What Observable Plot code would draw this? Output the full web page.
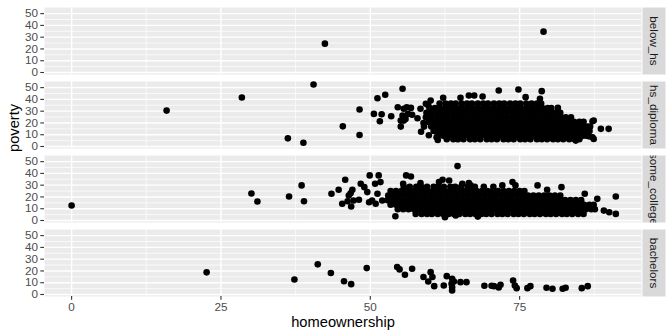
<!DOCTYPE html>
<html><head><meta charset="utf-8">
<script src="https://cdn.jsdelivr.net/npm/d3@7"></script>
<script src="https://cdn.jsdelivr.net/npm/@observablehq/plot@0.6"></script>
<style>body{margin:0;background:#fff;}</style>
</head><body><div id="chart"></div>
<script>
const levels = ["below_hs","hs_diploma","some_college","bachelors"];
const xTicks = [0,25,50,75];
const xMinor = [12.5,37.5,62.5,87.5];
const yTicks = [0,10,20,30,40,50];
const yMinor = [5,15,25,35,45];

// below_hs: [homeownership, poverty]
const belowHs = [[42.4,24.5],[79.0,34.7]];

// hs_diploma scattered points
const hsSparse = [[15.9,30.5],[28.5,41.6],[36.2,6.9],[38.8,3.2],[40.5,52.7],[45.4,17.1],[48.2,31.4],[48.2,9.8],[51.2,41],[52.5,43.9],[55.4,49],[50.6,27.7],[51.9,27.4],[51.6,21.4],[53.5,25.7],[54.6,33.3],[55.1,16.9],[55.6,32],[56.1,33.3],[56.8,32.8],[55.4,26.3],[55.9,23.4],[56.3,27.7],[57,26.9],[57.9,24],[58.4,32],[59.3,36.2],[60.1,39],[59.7,35],[59,16.9],[55.1,22],[55.6,22],[61.1,7.8],[61.3,5.5],[64.5,6.4],[62.2,41.4],[65.1,41.4],[66.5,43.3],[67.4,43.3],[68.8,42.5],[71.5,47.6],[74.8,48.4],[78.7,47],[78.4,40.5],[76,41.9],[81.4,32.8],[87.4,22],[88.6,15],[89.9,15],[86.6,8.6],[87.4,6.4],[84.4,5],[87.2,21.4],[87.2,7.8],[58.9,20],[58.5,12.5],[59.8,9.5]];
// hs_diploma dense cloud, read row by row: [poverty, [homeownership...]]
const hsRows = [
 [36.5,[61.6,62.6,63.5,64.3,65.3,66.2,67.0,68.0,68.9,69.7,70.7,71.6,72.4,73.4,74.3,75.1,76.1,77.0,77.9,78.6]],
 [32.6,[59.9,60.8,61.7,62.6,63.5,64.4,65.3,66.2,67.1,68.0,68.9,69.8,70.7,71.6,72.5,73.4,74.3,75.2,76.1,77.0,77.9,78.8,79.7,80.3]],
 [28.7,[59.4,60.3,61.2,62.1,63.0,63.9,64.8,65.7,66.6,67.5,68.4,69.3,70.2,71.1,72.0,72.9,73.8,74.7,75.6,76.5,77.4,78.3,79.2,80.1,81.0,81.8]],
 [24.8,[59.3,60.2,61.1,62.0,62.9,63.8,64.7,65.6,66.5,67.4,68.3,69.2,70.1,71.0,71.9,72.8,73.7,74.6,75.5,76.4,77.3,78.2,79.1,80.0,80.9,81.8,82.7,83.6]],
 [20.9,[59.8,60.7,61.6,62.5,63.4,64.3,65.2,66.1,67.0,67.9,68.8,69.7,70.6,71.5,72.4,73.3,74.2,75.1,76.0,76.9,77.8,78.7,79.6,80.5,81.4,82.3,83.2,84.1,85.0,85.7]],
 [17.0,[60.2,61.1,62.0,62.9,63.8,64.7,65.6,66.5,67.4,68.3,69.2,70.1,71.0,71.9,72.8,73.7,74.6,75.5,76.4,77.3,78.2,79.1,80.0,80.9,81.8,82.7,83.6,84.5,85.4,86.3,86.8]],
 [13.1,[60.6,61.5,62.4,63.3,64.2,65.1,66.0,66.9,67.8,68.7,69.6,70.5,71.4,72.3,73.2,74.1,75.0,75.9,76.8,77.7,78.6,79.5,80.4,81.3,82.2,83.1,84.0,84.9,85.8,86.7]],
 [9.2,[61.3,62.2,63.1,64.0,64.9,65.8,66.7,67.6,68.5,69.4,70.3,71.2,72.1,73.0,73.9,74.8,75.7,76.6,77.5,78.4,79.3,80.2,81.1,82.0,82.9,83.8,84.7,85.6,86.2]],
 [6.2,[62.8,63.9,64.7,65.6,66.7,67.5,68.4,69.5,70.3,71.2,72.3,73.1,74.0,75.1,75.9,76.8,77.9,78.7,79.6,80.6,81.4,82.3,83.3,84.2,85.0]]
];

// some_college scattered points
const scSparse = [[0,12.7],[30.1,22.9],[31.1,16.1],[36.4,20.4],[38.5,29.8],[38.9,16.4],[43.5,22.7],[44.7,26.1],[45.8,34.6],[45.3,14.2],[46.2,16.4],[46.8,11.9],[47.2,17],[48.1,17.6],[46.4,21.2],[47,26.1],[46.7,23.2],[48.4,31.2],[49,28.3],[49.5,24.1],[49.9,38.3],[51.4,38.3],[50.8,31.2],[51.7,32.6],[49.8,15.5],[50.3,17],[51.2,22.7],[50.9,14.2],[52,17],[54.2,3.6],[56,38.3],[56.8,37.4],[55.5,31.2],[58.4,31.7],[61.5,32.6],[62.1,34.6],[63.2,34],[64.6,46.2],[65.4,31.2],[66.5,31.7],[66.8,29.8],[62.5,2.7],[64.3,4.2],[68,3.3],[72.1,29.8],[73.8,32.6],[74.3,29.8],[78,29.8],[79.6,26.1],[82,28.3],[85.9,22.7],[88,18.4],[91.1,20.4],[91.1,5.6],[89.1,8.4],[90,7]];
// some_college dense cloud rows
const scRows = [
 [28.6,[55.6,56.6,57.7,58.5,59.5,60.6,61.4,62.3,63.4,64.2,65.2,66.3,67.5,69.0,70.6]],
 [25.1,[53.4,54.3,55.2,56.1,57.0,57.9,58.8,59.7,60.6,61.5,62.4,63.3,64.2,65.1,66.0,66.9,67.8,68.7,69.6,70.5,71.4,72.3,73.2,74.1,75.0,75.8]],
 [21.2,[53.0,53.9,54.8,55.7,56.6,57.5,58.4,59.3,60.2,61.1,62.0,62.9,63.8,64.7,65.6,66.5,67.4,68.3,69.2,70.1,71.0,71.9,72.8,73.7,74.6,75.5,76.4,77.3,78.2,79.1,80.0,80.9,81.8]],
 [17.3,[52.9,53.8,54.7,55.6,56.5,57.4,58.3,59.2,60.1,61.0,61.9,62.8,63.7,64.6,65.5,66.4,67.3,68.2,69.1,70.0,70.9,71.8,72.7,73.6,74.5,75.4,76.3,77.2,78.1,79.0,79.9,80.8,81.7,82.6,83.5,84.4,85.3]],
 [13.4,[53.4,54.3,55.2,56.1,57.0,57.9,58.8,59.7,60.6,61.5,62.4,63.3,64.2,65.1,66.0,66.9,67.8,68.7,69.6,70.5,71.4,72.3,73.2,74.1,75.0,75.9,76.8,77.7,78.6,79.5,80.4,81.3,82.2,83.1,84.0,84.9,85.8,86.7,87.4]],
 [9.5,[54.6,55.5,56.4,57.3,58.2,59.1,60.0,60.9,61.8,62.7,63.6,64.5,65.4,66.3,67.2,68.1,69.0,69.9,70.8,71.7,72.6,73.5,74.4,75.3,76.2,77.1,78.0,78.9,79.8,80.7,81.6,82.5,83.4,84.3,85.2,86.1,87.0,87.6]],
 [5.6,[57.6,58.6,59.5,60.3,61.3,62.2,63.1,64.0,64.9,65.9,66.7,67.6,68.6,69.4,70.3,71.3,72.1,73.0,74.0,74.8,75.7,76.7,77.5,78.4,79.4,80.2,81.1,82.1,82.9,83.8,84.8,85.7]]
];

// bachelors
const bachelors = [[22.6,18.8],[37.3,12.8],[41.2,25.6],[43.4,18.2],[45.6,11.3],[46.8,8.8],[49.4,22.4],[54.5,23.3],[54.9,21.3],[55.8,16.8],[57,21.9],[58.9,14.8],[60.1,19],[60.4,14.8],[59.7,11.1],[60.7,7.1],[62.3,7.7],[62.8,15.6],[63.7,13.3],[63.6,9.1],[63.7,6.2],[64,11.1],[63.7,3.4],[65.1,10.5],[66.1,10.5],[69.1,7.4],[70.3,7.4],[70.7,7.1],[71.8,8.3],[71.5,6],[73.9,11.9],[74.2,7.7],[74.5,5.4],[76.3,5.4],[76.8,7.1],[79.5,5.7],[80.5,4.9],[82.2,4.9],[82.7,5.7],[85.4,5.4],[86.4,7.1]];

const data = [];
const addPairs = (edu, pairs) => pairs.forEach(([x, y]) => data.push({edu, homeownership: x, poverty: y}));
const addRows = (edu, rows) => rows.forEach(([y, xs]) => xs.forEach(x => data.push({edu, homeownership: x, poverty: y})));
addPairs("below_hs", belowHs);
addPairs("hs_diploma", hsSparse);
addRows("hs_diploma", hsRows);
addPairs("some_college", scSparse);
addRows("some_college", scRows);
addPairs("bachelors", bachelors);

const font = "'Liberation Sans', Arial, Helvetica, sans-serif";
const W = 672, H = 336, mL = 44, mR = 31, mT = 7, mB = 40;
const panelW = W - mL - mR;

let clipCount = 0;
// clip the strip labels to the strip's own height, as ggplot does
function clipToPanel(index, scales, values, dimensions, context, next) {
  const g = next(index, scales, values, dimensions, context);
  const {height, marginTop, marginBottom} = dimensions;
  const id = "strip-clip-" + (++clipCount);
  const ns = "http://www.w3.org/2000/svg";
  const cp = document.createElementNS(ns, "clipPath");
  cp.setAttribute("id", id);
  const r = document.createElementNS(ns, "rect");
  r.setAttribute("x", 0); r.setAttribute("y", marginTop);
  r.setAttribute("width", W); r.setAttribute("height", height - marginTop - marginBottom);
  cp.appendChild(r);
  g.insertBefore(cp, g.firstChild);
  g.setAttribute("clip-path", `url(#${id})`);
  return g;
}

const plot = Plot.plot({
  width: W, height: H,
  marginTop: mT, marginRight: mR, marginBottom: mB, marginLeft: mL,
  style: {fontFamily: font, background: "white"},
  x: {domain: [-4.54, 95.4]},
  y: {domain: [-1.7, 55.2]},
  fy: {domain: levels, paddingInner: 0.1, paddingOuter: 0, axis: null, label: null},
  marks: [
    Plot.frame({fill: "#EBEBEB"}),
    // facet strip background, just right of each panel
    Plot.frame({fill: "#D9D9D9", insetLeft: panelW + 1, insetRight: -24}),
    Plot.gridY(yMinor, {stroke: "white", strokeOpacity: 1, strokeWidth: 0.7}),
    Plot.gridX(xMinor, {stroke: "white", strokeOpacity: 1, strokeWidth: 0.7}),
    Plot.gridY(yTicks, {stroke: "white", strokeOpacity: 1, strokeWidth: 1.4}),
    Plot.gridX(xTicks, {stroke: "white", strokeOpacity: 1, strokeWidth: 1.4}),
    Plot.axisY(yTicks, {tickSize: 3.7, tickPadding: 2.9, fontSize: 11.7, stroke: "#333333", fill: "#4D4D4D", strokeWidth: 1.1, label: null}),
    Plot.axisX(xTicks, {tickSize: 3.7, tickPadding: 2.9, fontSize: 11.7, stroke: "#333333", fill: "#4D4D4D", strokeWidth: 1.1, label: null}),
    Plot.text(levels, {fy: d => d, text: d => d, frameAnchor: "right", textAnchor: "middle", dx: 12.5, rotate: 90, fontSize: 11.7, fill: "#1A1A1A", render: clipToPanel}),
    Plot.dot(data, {x: "homeownership", y: "poverty", fy: "edu", r: 3.3, fill: "black", stroke: "none"}),
    Plot.text(["poverty"], {facet: "super", text: d => d, frameAnchor: "left", dx: -30, rotate: -90, fontSize: 14.7, fill: "black"}),
    Plot.text(["homeownership"], {facet: "super", text: d => d, frameAnchor: "bottom", dy: 30, fontSize: 14.7, fill: "black"})
  ]
});
document.getElementById("chart").appendChild(plot);
</script>
</body></html>
